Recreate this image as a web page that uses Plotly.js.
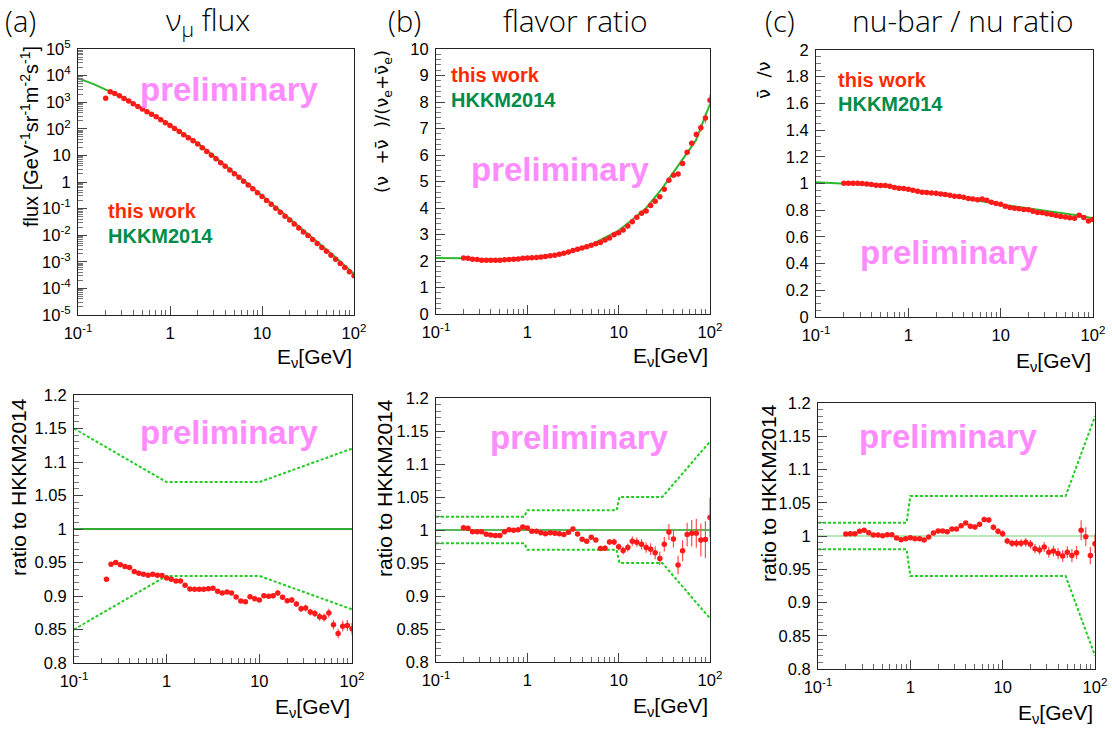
<!DOCTYPE html>
<html><head><meta charset="utf-8">
<script src="https://cdn.plot.ly/plotly-3.0.1.min.js"></script>
<style>html,body{margin:0;padding:0;background:#fff;} #plot{width:1112px;height:731px;}</style>
</head><body><div id="plot"></div>
<script>
// ---------------- data ----------------
const energy = [0.2, 0.224, 0.251, 0.282, 0.316, 0.355, 0.398, 0.447, 0.501, 0.562, 0.631, 0.708, 0.794, 0.891, 1.0, 1.12, 1.26, 1.41, 1.58, 1.78, 2.0, 2.24, 2.51, 2.82, 3.16, 3.55, 3.98, 4.47, 5.01, 5.62, 6.31, 7.08, 7.94, 8.91, 10, 11.2, 12.6, 14.1, 15.8, 17.8, 20, 22.4, 25.1, 28.2, 31.6, 35.5, 39.8, 44.7, 50.1, 56.2, 63.1, 70.8, 79.4, 89.1, 100];
const energyRatioA = [0.224, 0.251, 0.282, 0.316, 0.355, 0.398, 0.447, 0.501, 0.562, 0.631, 0.708, 0.794, 0.891, 1.0, 1.12, 1.26, 1.41, 1.58, 1.78, 2.0, 2.24, 2.51, 2.82, 3.16, 3.55, 3.98, 4.47, 5.01, 5.62, 6.31, 7.08, 7.94, 8.91, 10, 11.2, 12.6, 14.1, 15.8, 17.8, 20, 22.4, 25.1, 28.2, 31.6, 35.5, 39.8, 44.7, 50.1, 56.2, 63.1, 70.8, 79.4, 89.1, 100];

const fluxData = [1.41e3, 2.45e3, 2.11e3, 1.74e3, 1.38e3, 1.10e3, 871, 692, 550, 437, 355, 282, 219, 170, 133, 102, 79.4, 59.6, 45.7, 35.5, 26.6, 19.5, 14.1, 10.2, 7.41, 5.31, 3.89, 2.82, 2.04, 1.50, 1.06, 0.776, 0.562, 0.398, 0.282, 0.200, 0.145, 0.102, 0.0724, 0.0513, 0.0376, 0.0266, 0.0188, 0.0133, 0.00977, 0.00692, 0.00490, 0.00347, 0.00251, 0.00178, 0.00126, 0.000871, 0.000617, 0.000422, 0.000299];
const flavorData = [2.11, 2.10, 2.07, 2.06, 2.03, 2.03, 2.03, 2.03, 2.03, 2.05, 2.06, 2.07, 2.08, 2.10, 2.11, 2.12, 2.13, 2.15, 2.17, 2.20, 2.22, 2.25, 2.29, 2.34, 2.40, 2.44, 2.49, 2.54, 2.59, 2.65, 2.70, 2.79, 2.87, 2.99, 3.07, 3.17, 3.32, 3.48, 3.65, 3.80, 3.89, 4.09, 4.25, 4.42, 4.71, 5.05, 5.24, 5.28, 5.68, 6.10, 6.44, 6.77, 7.03, 7.40, 8.07];
const flavorErr = [0.01,0.01,0.01,0.01,0.01,0.01,0.01,0.01,0.01,0.01, 0.01,0.01,0.01,0.01,0.01,0.01,0.01,0.01,0.01,0.01, 0.01,0.01,0.01,0.01,0.01,0.01,0.01,0.012,0.012,0.015, 0.015,0.015,0.02,0.02,0.02,0.025,0.025,0.03,0.03,0.035, 0.035,0.04,0.045,0.05,0.05,0.06,0.06,0.07,0.08,0.09, 0.1,0.12,0.15,0.2,0.2];
const nubarData = [1.002, 1.002, 1.002, 1.002, 1.0, 0.997, 0.992, 0.987, 0.985, 0.985, 0.980, 0.970, 0.965, 0.962, 0.957, 0.950, 0.942, 0.934, 0.932, 0.929, 0.927, 0.922, 0.917, 0.912, 0.904, 0.902, 0.897, 0.888, 0.883, 0.878, 0.883, 0.875, 0.860, 0.850, 0.845, 0.830, 0.820, 0.815, 0.810, 0.805, 0.803, 0.793, 0.783, 0.780, 0.773, 0.768, 0.760, 0.753, 0.750, 0.743, 0.740, 0.763, 0.745, 0.720, 0.730];

const energyLine = [0.1, 0.15, 0.2, 0.3, 0.5, 0.7, 1, 1.5, 2, 3, 5, 7, 10, 15, 20, 30, 50, 70, 100];
const hkkmFlux = [7.94e3, 4.7e3, 2.95e3, 1.62e3, 589, 302, 145, 56.6, 29.2, 9.55, 2.29, 0.895, 0.313, 0.0955, 0.0421, 0.0130, 0.00288, 0.00107, 0.000351];
const hkkmFlavor = [2.11, 2.11, 2.10, 2.07, 2.05, 2.07, 2.10, 2.16, 2.23, 2.37, 2.62, 2.87, 3.15, 3.63, 4.0, 4.74, 5.86, 6.55, 7.92];
const hkkmNubar = [1.01, 1.005, 1.0, 0.993, 0.985, 0.975, 0.96, 0.94, 0.925, 0.903, 0.88, 0.862, 0.843, 0.825, 0.813, 0.797, 0.777, 0.76, 0.74];

const ratioA = [0.925, 0.9475, 0.950, 0.9465, 0.944, 0.9425, 0.9365, 0.934, 0.9325, 0.931, 0.9325, 0.931, 0.9305, 0.927, 0.925, 0.9225, 0.9225, 0.916, 0.9105, 0.910, 0.910, 0.910, 0.911, 0.9115, 0.907, 0.9045, 0.906, 0.9045, 0.8985, 0.8925, 0.8915, 0.899, 0.896, 0.894, 0.9005, 0.8995, 0.9005, 0.9045, 0.898, 0.893, 0.894, 0.888, 0.881, 0.882, 0.876, 0.874, 0.869, 0.868, 0.8745, 0.857, 0.844, 0.855, 0.856, 0.851];
const ratioAErr = [0.001,0.001,0.001,0.001,0.001,0.001,0.001,0.001,0.001,0.001, 0.001,0.001,0.001,0.001,0.0015,0.0015,0.0015,0.0015,0.0015,0.0015, 0.0015,0.002,0.002,0.002,0.002,0.002,0.002,0.0025,0.0025,0.003, 0.003,0.003,0.003,0.003,0.0035,0.0035,0.004,0.004,0.004,0.004, 0.0045,0.0045,0.005,0.005,0.005,0.0055,0.006,0.006,0.0065,0.007, 0.007,0.008,0.008,0.009];
const ratioB = [1.0035, 1.0025, 0.9975, 0.9975, 0.9975, 0.9935, 0.9925, 0.9915, 0.9915, 0.9975, 1.0005, 0.9995, 1.0005, 1.0045, 1.003, 0.998, 0.998, 0.996, 0.9945, 0.996, 0.995, 0.9945, 0.993, 0.9965, 1.0015, 0.994, 0.986, 0.983, 0.989, 0.985, 0.972, 0.9725, 0.982, 0.982, 0.9745, 0.969, 0.9735, 0.983, 0.9815, 0.9785, 0.9735, 0.971, 0.9655, 0.957, 0.9785, 0.997, 0.9865, 0.947, 0.9685, 0.993, 0.995, 0.995, 0.985, 0.9855, 1.019];
const ratioBErr = [0.0015,0.0015,0.0015,0.0015,0.0015,0.0015,0.0015,0.0015,0.0015,0.0015, 0.0015,0.0015,0.0015,0.0015,0.0015,0.002,0.002,0.002,0.002,0.002, 0.002,0.002,0.002,0.0025,0.0025,0.003,0.003,0.003,0.003,0.0035, 0.004,0.004,0.0045,0.005,0.005,0.006,0.006,0.007,0.007,0.008, 0.008,0.009,0.01,0.01,0.011,0.012,0.013,0.014,0.016,0.018, 0.02,0.022,0.025,0.028,0.03];
const ratioC = [1.003, 1.0035, 1.0035, 1.007, 1.0085, 1.005, 1.0015, 1.0015, 1.0005, 1.002, 1.002, 0.997, 0.9945, 0.996, 0.9975, 0.996, 0.996, 0.994, 0.9985, 1.0045, 1.0075, 1.0075, 1.0065, 1.0105, 1.0105, 1.0155, 1.0195, 1.0145, 1.0135, 1.0175, 1.025, 1.024, 1.013, 1.007, 1.0035, 0.9925, 0.989, 0.989, 0.989, 0.9905, 0.9875, 0.981, 0.979, 0.9835, 0.9755, 0.9775, 0.9735, 0.97, 0.9755, 0.9705, 0.975, 1.0085, 0.999, 0.9705, 0.9885];
const ratioCErr = [0.0015,0.0015,0.0015,0.0015,0.0015,0.0015,0.0015,0.0015,0.0015,0.0015, 0.0015,0.0015,0.0015,0.0015,0.0015,0.002,0.002,0.002,0.002,0.002, 0.002,0.002,0.0025,0.0025,0.0025,0.003,0.003,0.003,0.0035,0.0035, 0.004,0.004,0.0045,0.0045,0.005,0.005,0.0055,0.006,0.006,0.0065, 0.0065,0.007,0.007,0.0075,0.008,0.008,0.0085,0.009,0.009,0.01, 0.01,0.015,0.014,0.013,0.014];

const unityX = [0.1, 100];
const unityY = [1, 1];
const bandAx = [0.1, 1, 10, 100];
const bandAup = [1.15, 1.07, 1.07, 1.12];
const bandAlo = [0.85, 0.93, 0.93, 0.88];
const bandBx = [0.1, 0.925, 1.0, 9.5, 10.2, 30, 100];
const bandBup = [1.02, 1.02, 1.03, 1.03, 1.05, 1.05, 1.134];
const bandBlo = [0.98, 0.98, 0.97, 0.97, 0.95, 0.95, 0.866];
const bandCx = [0.1, 0.91, 1.0, 48, 100];
const bandCup = [1.02, 1.02, 1.06, 1.06, 1.18];
const bandClo = [0.98, 0.98, 0.94, 0.94, 0.82];

const xTickVals = [0.1, 1, 10, 100];
const xTickText = ['10<sup>-1</sup>', '1', '10', '10<sup>2</sup>'];
const fluxTickVals = [1e-5, 1e-4, 1e-3, 1e-2, 1e-1, 1, 10, 1e2, 1e3, 1e4, 1e5];
const fluxTickText = ['10<sup>-5</sup>', '10<sup>-4</sup>', '10<sup>-3</sup>', '10<sup>-2</sup>', '10<sup>-1</sup>', '1', '10', '10<sup>2</sup>', '10<sup>3</sup>', '10<sup>4</sup>', '10<sup>5</sup>'];
const flavorTickVals = [0, 1, 2, 3, 4, 5, 6, 7, 8, 9, 10];
const flavorTickText = ['0', '1', '2', '3', '4', '5', '6', '7', '8', '9', '10'];
const nubarTickVals = [0, 0.2, 0.4, 0.6, 0.8, 1, 1.2, 1.4, 1.6, 1.8, 2];
const nubarTickText = ['0', '0.2', '0.4', '0.6', '0.8', '1', '1.2', '1.4', '1.6', '1.8', '2'];
const ratioTickVals = [0.8, 0.85, 0.9, 0.95, 1, 1.05, 1.1, 1.15, 1.2];
const ratioTickText = ['0.8', '0.85', '0.9', '0.95', '1', '1.05', '1.1', '1.15', '1.2'];

// ---------------- styling / layout ----------------
const W = 1112, H = 731;
const FONT = 'Liberation Sans, Arial, sans-serif';
const RED = '#ff1a1a', LINEGREEN = '#2eb82e', BANDGREEN = '#22cc22';
function dX(a, b) { return [a / W, b / W]; }
function dY(top, bot) { return [1 - bot / H, 1 - top / H]; }

function logMinor(lo, hi) {
  const v = [];
  for (let e = lo; e < hi; e++) for (let m = 2; m <= 9; m++) v.push(m * Math.pow(10, e));
  return v;
}
function linMinor(lo, hi, step) {
  const v = []; const n = Math.round((hi - lo) / step);
  for (let i = 0; i <= n; i++) v.push(+(lo + i * step).toFixed(6));
  return v;
}
function xAxis(dom, anchor) {
  return {
    domain: dX(dom[0], dom[1]), anchor: anchor, type: 'log', range: [-1, 2],
    tickmode: 'array', tickvals: xTickVals, ticktext: xTickText,
    ticks: 'inside', ticklen: 9, tickwidth: 1, tickcolor: '#444',
    minor: { tickmode: 'array', tickvals: logMinor(-1, 2), ticks: 'inside', ticklen: 5, tickcolor: '#666', showgrid: false },
    showline: true, linecolor: '#222', linewidth: 1, mirror: true,
    showgrid: false, zeroline: false,
    tickfont: { family: FONT, size: 16.5, color: '#000' }, ticklabelstandoff: 3
  };
}
function yAxis(dom, anchor, type, range, tv, tt, minorVals) {
  return {
    domain: dY(dom[0], dom[1]), anchor: anchor, type: type, range: range,
    tickmode: 'array', tickvals: tv, ticktext: tt,
    ticks: 'inside', ticklen: 9, tickwidth: 1, tickcolor: '#444',
    minor: { tickmode: 'array', tickvals: minorVals, ticks: 'inside', ticklen: 5, tickcolor: '#777', showgrid: false },
    showline: true, linecolor: '#222', linewidth: 1, mirror: true,
    showgrid: false, zeroline: false,
    tickfont: { family: FONT, size: 16.5, color: '#000' }, ticklabelstandoff: 3
  };
}

const traces = [];
function lineTrace(x, y, xa, ya, color, width, dash) {
  return { x: x, y: y, xaxis: xa, yaxis: ya, type: 'scatter', mode: 'lines',
    line: { color: color, width: width, dash: dash || 'solid' }, hoverinfo: 'skip' };
}
function dataTrace(x, y, err, xa, ya) {
  const t = { x: x, y: y, xaxis: xa, yaxis: ya, type: 'scatter', mode: 'markers',
    marker: { color: RED, size: 5.5, symbol: 'circle', line: { width: 0 } } };
  if (err) t.error_y = { type: 'data', array: err, visible: true, color: '#ff4d4d', thickness: 1.2, width: 0 };
  return t;
}
// top row
traces.push(lineTrace(energyLine, hkkmFlux, 'x', 'y', LINEGREEN, 2));
traces.push(dataTrace(energy, fluxData, null, 'x', 'y'));
traces.push(lineTrace(energyLine, hkkmFlavor, 'x2', 'y2', LINEGREEN, 2));
traces.push(dataTrace(energy, flavorData, flavorErr, 'x2', 'y2'));
traces.push(lineTrace(energyLine, hkkmNubar, 'x3', 'y3', LINEGREEN, 2));
traces.push(dataTrace(energy, nubarData, null, 'x3', 'y3'));
// bottom row
traces.push(lineTrace(unityX, unityY, 'x4', 'y4', '#33aa33', 2));
traces.push(lineTrace(bandAx, bandAup, 'x4', 'y4', BANDGREEN, 2, '3px,2px'));
traces.push(lineTrace(bandAx, bandAlo, 'x4', 'y4', BANDGREEN, 2, '3px,2px'));
traces.push(dataTrace(energyRatioA, ratioA, ratioAErr, 'x4', 'y4'));
traces.push(lineTrace(unityX, unityY, 'x5', 'y5', '#22a022', 1.5));
traces.push(lineTrace(bandBx, bandBup, 'x5', 'y5', BANDGREEN, 2, '3px,2px'));
traces.push(lineTrace(bandBx, bandBlo, 'x5', 'y5', BANDGREEN, 2, '3px,2px'));
traces.push(dataTrace(energy, ratioB, ratioBErr, 'x5', 'y5'));
traces.push(lineTrace(unityX, unityY, 'x6', 'y6', '#9fdf9f', 1.5));
traces.push(lineTrace(bandCx, bandCup, 'x6', 'y6', BANDGREEN, 2, '3px,2px'));
traces.push(lineTrace(bandCx, bandClo, 'x6', 'y6', BANDGREEN, 2, '3px,2px'));
traces.push(dataTrace(energy, ratioC, ratioCErr, 'x6', 'y6'));

// panel boxes [left, right], [top, bottom]
const P = {
  a1: { x: [78, 354], y: [49, 315] },
  b1: { x: [436, 710], y: [49, 314] },
  c1: { x: [816, 1093], y: [50, 317] },
  a2: { x: [74, 352], y: [395, 663] },
  b2: { x: [436, 710], y: [398, 662] },
  c2: { x: [818, 1095], y: [403, 669] }
};

const layout = {
  width: W, height: H, margin: { l: 0, r: 0, t: 0, b: 0 },
  paper_bgcolor: '#fff', plot_bgcolor: '#fff', showlegend: false,
  font: { family: FONT, color: '#000' },
  xaxis: xAxis(P.a1.x, 'y'),
  yaxis: yAxis(P.a1.y, 'x', 'log', [-5, 5], fluxTickVals, fluxTickText, logMinor(-5, 5)),
  xaxis2: xAxis(P.b1.x, 'y2'),
  yaxis2: yAxis(P.b1.y, 'x2', 'linear', [0, 10], flavorTickVals, flavorTickText, linMinor(0, 10, 0.2)),
  xaxis3: xAxis(P.c1.x, 'y3'),
  yaxis3: yAxis(P.c1.y, 'x3', 'linear', [0, 2], nubarTickVals, nubarTickText, linMinor(0, 2, 0.05)),
  xaxis4: xAxis(P.a2.x, 'y4'),
  yaxis4: yAxis(P.a2.y, 'x4', 'linear', [0.8, 1.2], ratioTickVals, ratioTickText, linMinor(0.8, 1.2, 0.01)),
  xaxis5: xAxis(P.b2.x, 'y5'),
  yaxis5: yAxis(P.b2.y, 'x5', 'linear', [0.8, 1.2], ratioTickVals, ratioTickText, linMinor(0.8, 1.2, 0.01)),
  xaxis6: xAxis(P.c2.x, 'y6'),
  yaxis6: yAxis(P.c2.y, 'x6', 'linear', [0.8, 1.2], ratioTickVals, ratioTickText, linMinor(0.8, 1.2, 0.01)),
  annotations: []
};

function ann(text, px, py, opt) {
  const o = Object.assign({ size: 20, color: '#000', xanchor: 'center', yanchor: 'middle', angle: 0, family: FONT, weight: 'normal', pad: 1 }, opt || {});
  layout.annotations.push({
    text: text, xref: 'paper', yref: 'paper', x: px / W, y: 1 - py / H,
    xanchor: o.xanchor, yanchor: o.yanchor, showarrow: false, textangle: o.angle, borderpad: o.pad,
    font: { family: o.family, size: o.size, color: o.color, weight: o.weight }
  });
}
const TFONT = 'Open Sans, Roboto, Liberation Sans, sans-serif';
const NUFONT = 'DejaVu Sans, Liberation Sans, sans-serif';
// panel titles
ann('(a)', 4, 21, { size: 29, xanchor: 'left', family: TFONT, weight: 300, pad: 0 });
ann('ν<sub>μ</sub> flux', 207, 21, { size: 30, family: TFONT, weight: 300, pad: 0 });
ann('(b)', 387, 21, { size: 29, xanchor: 'left', family: TFONT, weight: 300, pad: 0 });
ann('flavor ratio', 575, 21, { size: 30, family: TFONT, weight: 300, pad: 0 });
ann('(c)', 764, 21, { size: 29, xanchor: 'left', family: TFONT, weight: 300, pad: 0 });
ann('nu-bar / nu ratio', 963, 21, { size: 30, family: TFONT, weight: 300, pad: 0 });
// x axis titles
const xt = 'E<sub>ν</sub>[GeV]';
ann(xt, 354, 358, { size: 21, xanchor: 'right' });
ann(xt, 710, 357, { size: 21, xanchor: 'right' });
ann(xt, 1093, 362, { size: 21, xanchor: 'right' });
ann(xt, 352, 708, { size: 21, xanchor: 'right' });
ann(xt, 710, 707, { size: 21, xanchor: 'right' });
ann(xt, 1095, 714, { size: 21, xanchor: 'right' });
// y axis titles
ann('flux [GeV<sup>-1</sup>sr<sup>-1</sup>m<sup>-2</sup>s<sup>-1</sup>]', 29, 137, { size: 20, angle: -90 });
ann('(ν  +ν\u0304  )/(ν<sub>e</sub>+ν\u0304<sub>e</sub>)', 383, 122, { size: 18, angle: -90, family: NUFONT });
ann('ν\u0304  /ν', 763, 80, { size: 18, angle: -90, family: NUFONT });
ann('ratio to HKKM2014', 19, 487, { size: 21, angle: -90 });
ann('ratio to HKKM2014', 384, 488, { size: 21, angle: -90 });
ann('ratio to HKKM2014', 768, 493, { size: 21, angle: -90 });
// legends
const LRED = '#ff2a00', LGREEN = '#008c4a';
ann('this work', 106, 211, { size: 20, color: LRED, xanchor: 'left', weight: 'bold' });
ann('HKKM2014', 106, 236, { size: 20, color: LGREEN, xanchor: 'left', weight: 'bold' });
ann('this work', 449, 75, { size: 20, color: LRED, xanchor: 'left', weight: 'bold' });
ann('HKKM2014', 449, 100, { size: 20, color: LGREEN, xanchor: 'left', weight: 'bold' });
ann('this work', 836, 80, { size: 20, color: LRED, xanchor: 'left', weight: 'bold' });
ann('HKKM2014', 836, 104, { size: 20, color: LGREEN, xanchor: 'left', weight: 'bold' });
// preliminary
const PINK = '#ff8cff';
ann('preliminary', 138, 90, { size: 33, color: PINK, xanchor: 'left', weight: 'bold' });
ann('preliminary', 469, 169, { size: 33, color: PINK, xanchor: 'left', weight: 'bold' });
ann('preliminary', 858, 252, { size: 33, color: PINK, xanchor: 'left', weight: 'bold' });
ann('preliminary', 138, 432, { size: 33, color: PINK, xanchor: 'left', weight: 'bold' });
ann('preliminary', 488, 437, { size: 33, color: PINK, xanchor: 'left', weight: 'bold' });
ann('preliminary', 857, 436, { size: 33, color: PINK, xanchor: 'left', weight: 'bold' });

Plotly.newPlot('plot', traces, layout, { staticPlot: true, displayModeBar: false });
</script>
</body></html>
